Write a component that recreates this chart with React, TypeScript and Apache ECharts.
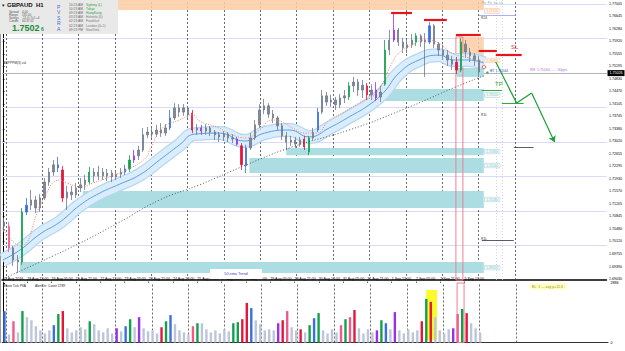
import React, { useEffect, useRef } from "react";
import * as echarts from "echarts";

// ---------------- data ----------------
// 3-hour candles [open, close, low, high]
const candles: number[][] = [
  [1.7068,1.7056,1.7039,1.7080],[1.7056,1.6993,1.6981,1.7068],[1.6993,1.6958,1.6941,1.6999],[1.6958,1.6952,1.6920,1.6972],
  [1.6952,1.7097,1.6944,1.7109],[1.7097,1.7117,1.7088,1.7138],[1.7117,1.7132,1.7103,1.7161],[1.7132,1.7109,1.7094,1.7144],
  [1.7109,1.7138,1.7097,1.7149],[1.7138,1.7184,1.7132,1.7196],[1.7184,1.7213,1.7173,1.7225],[1.7213,1.7234,1.7202,1.7248],
  [1.7234,1.7225,1.7213,1.7257],[1.7219,1.7138,1.7126,1.7231],[1.7138,1.7155,1.7103,1.7173],[1.7155,1.7147,1.7132,1.7173],
  [1.7147,1.7167,1.7138,1.7181],[1.7167,1.7176,1.7155,1.7196],[1.7176,1.7190,1.7161,1.7205],[1.7184,1.7213,1.7178,1.7228],
  [1.7213,1.7202,1.7184,1.7225],[1.7202,1.7213,1.7190,1.7231],[1.7213,1.7202,1.7190,1.7225],[1.7202,1.7210,1.7187,1.7222],
  [1.7210,1.7199,1.7184,1.7219],[1.7199,1.7207,1.7190,1.7219],[1.7207,1.7213,1.7196,1.7225],[1.7213,1.7222,1.7205,1.7234],
  [1.7222,1.7248,1.7213,1.7262],[1.7248,1.7260,1.7239,1.7277],[1.7260,1.7277,1.7248,1.7289],[1.7277,1.7321,1.7271,1.7341],
  [1.7321,1.7329,1.7312,1.7344],[1.7329,1.7323,1.7312,1.7341],[1.7323,1.7335,1.7315,1.7350],[1.7335,1.7326,1.7315,1.7355],
  [1.7326,1.7341,1.7318,1.7352],[1.7341,1.7370,1.7335,1.7393],[1.7370,1.7399,1.7364,1.7413],[1.7399,1.7387,1.7373,1.7410],
  [1.7387,1.7399,1.7376,1.7410],[1.7399,1.7379,1.7370,1.7405],[1.7384,1.7335,1.7326,1.7393],[1.7335,1.7341,1.7321,1.7352],
  [1.7341,1.7332,1.7321,1.7350],[1.7332,1.7341,1.7321,1.7352],[1.7341,1.7329,1.7318,1.7347],[1.7329,1.7321,1.7306,1.7335],
  [1.7321,1.7315,1.7300,1.7329],[1.7315,1.7323,1.7303,1.7332],[1.7323,1.7312,1.7300,1.7329],[1.7312,1.7309,1.7297,1.7323],
  [1.7309,1.7294,1.7289,1.7315],[1.7289,1.7234,1.7219,1.7297],[1.7231,1.7283,1.7210,1.7292],[1.7283,1.7312,1.7277,1.7326],
  [1.7312,1.7350,1.7306,1.7364],[1.7350,1.7393,1.7341,1.7410],[1.7393,1.7405,1.7381,1.7425],[1.7405,1.7381,1.7370,1.7413],
  [1.7381,1.7370,1.7355,1.7393],[1.7370,1.7347,1.7335,1.7376],[1.7347,1.7318,1.7306,1.7355],[1.7318,1.7300,1.7277,1.7329],
  [1.7300,1.7306,1.7289,1.7318],[1.7306,1.7294,1.7283,1.7315],[1.7294,1.7306,1.7286,1.7315],[1.7309,1.7286,1.7277,1.7318],
  [1.7271,1.7312,1.7262,1.7318],[1.7312,1.7329,1.7306,1.7341],[1.7335,1.7387,1.7329,1.7399],[1.7387,1.7434,1.7381,1.7451],
  [1.7434,1.7416,1.7405,1.7445],[1.7416,1.7422,1.7402,1.7437],[1.7422,1.7408,1.7393,1.7431],[1.7408,1.7428,1.7399,1.7439],
  [1.7428,1.7434,1.7413,1.7451],[1.7431,1.7463,1.7422,1.7474],[1.7463,1.7474,1.7445,1.7489],[1.7474,1.7451,1.7434,1.7483],
  [1.7451,1.7465,1.7428,1.7480],[1.7463,1.7437,1.7422,1.7471],[1.7437,1.7451,1.7422,1.7468],[1.7451,1.7428,1.7419,1.7474],
  [1.7431,1.7445,1.7416,1.7463],[1.7468,1.7567,1.7463,1.7596],[1.7567,1.7596,1.7552,1.7625],[1.7596,1.7625,1.7590,1.7674],
  [1.7625,1.7590,1.7579,1.7631],[1.7590,1.7573,1.7558,1.7602],[1.7573,1.7582,1.7558,1.7596],[1.7582,1.7596,1.7573,1.7613],
  [1.7590,1.7608,1.7579,1.7616],[1.7608,1.7590,1.7576,1.7613],[1.7590,1.7596,1.7489,1.7616],[1.7590,1.7637,1.7584,1.7648],
  [1.7637,1.7584,1.7573,1.7642],[1.7584,1.7567,1.7550,1.7590],[1.7567,1.7552,1.7538,1.7582],[1.7552,1.7538,1.7521,1.7567],
  [1.7538,1.7526,1.7509,1.7550],[1.7532,1.7509,1.7497,1.7547],[1.7509,1.7590,1.7503,1.7602],[1.7584,1.7561,1.7544,1.7596],
  [1.7561,1.7550,1.7532,1.7573],[1.7550,1.7538,1.7521,1.7558],[1.7538,1.7503,1.7489,1.7550],
];
const volumes: number[] = [
  1525,390,1030,490,1525,1230,1080,790,590,440,
  590,840,1380,1525,690,490,590,740,640,1030,
  890,590,490,690,440,690,540,790,1130,740,
  1230,690,540,590,440,740,1030,1330,890,590,
  490,390,790,935,935,640,490,590,440,640,
  540,935,985,1130,1920,1670,1080,890,590,640,
  590,935,1080,1525,740,590,640,490,840,1180,
  1425,590,440,640,490,840,1130,1230,1575,690,
  440,640,490,590,1080,935,640,1475,590,440,
  640,490,590,1030,2115,1970,1230,590,440,640,
  690,1380,1625,1425,935,690,490,
];
// signal bars (indices)
const candleGreen = [4, 19, 28, 68, 77, 85, 92, 102];
const candleRed = [13, 42, 53, 67, 81, 101];
const candlePink = [1];
const candleBlue = [5, 12, 27, 37, 54, 70, 95];
const candlePurple = [29, 44, 52, 83, 87];
const volGreen = [4, 12, 19, 28, 36, 43, 51, 52, 68, 70, 76, 84, 94, 102];
const volRed = [13, 35, 53, 54, 62, 66, 78, 93, 95, 103];
const volPink = [2, 42, 63, 75, 77, 101];
const volBlue = [0, 11, 27, 37, 55, 69, 85];
const volPurple = [25, 30, 61, 83, 87, 100];

const slotCount = 135;
const timeLabels = ["17 Aug 2016","18 Aug 13:00","19 Aug 05:00","19 Aug 21:00","22 Aug 13:00","23 Aug 05:00","23 Aug 21:00","24 Aug 13:00","25 Aug 05:00","25 Aug 21:00","26 Aug 13:00","29 Aug 05:00","29 Aug 21:00","30 Aug 13:00","31 Aug 05:00","31 Aug 21:00","1 Sep 13:00","2 Sep 05:00","2 Sep 21:00","5 Sep 13:00"];
const timeLabelHours = [0,16,32,48,64,80,96,112,128,144,160,176,192,208,224,240,256,272,288,304];
const dayLineHours = [2,26,50,74,98,122,146,170,194,218,242,266,290,314,338];
const priceTicks = [1.6903,1.6939,1.69755,1.7012,1.7048,1.70845,1.71205,1.7157,1.7193,1.72295,1.72655,1.7302,1.7338,1.73745,1.74105,1.7447,1.7483,1.75195,1.75555,1.7592,1.7628,1.76645,1.77005];
const volumeTicks = [0, 2886];
const greenLevels = [1.695,1.705,1.715,1.725,1.735,1.745,1.755,1.765];
const blueLevels = [1.700,1.710,1.720,1.730,1.740,1.750,1.760,1.770];
const currentPrice = 1.75026;
const entryLevel = 1.75164;

// indicators [hour, price]
const emaBand = [[0,1.6958],[11.4,1.6987],[24.5,1.7033],[37.7,1.7068],[50.9,1.7117],[64,1.7152],[77.2,1.7178],[90.4,1.7205],[103.5,1.7248],[116.7,1.7292],[126.6,1.7323],[143,1.7326],[159.5,1.7303],[172.7,1.7326],[189.1,1.7335],[202.3,1.7315],[215.5,1.7341],[228.6,1.7373],[241.8,1.7408],[251.7,1.7445],[261.5,1.75],[274.7,1.7538],[287.9,1.7552],[297.8,1.7538],[307.6,1.7538],[317.5,1.7529]];
const fastMa = [[0,1.7051],[11.4,1.6999],[26.5,1.7132],[37.7,1.719],[42.3,1.7181],[52.8,1.717],[59.4,1.7181],[70.6,1.7199],[85.8,1.7228],[95,1.7257],[96.9,1.7277],[105.5,1.7341],[116.7,1.7364],[125.3,1.7379],[129.9,1.7361],[141.1,1.7344],[151.6,1.7321],[160.8,1.7312],[169.4,1.7335],[177.9,1.7364],[184.5,1.7358],[191.1,1.7341],[200.3,1.7326],[206.9,1.7326],[215.5,1.7364],[224,1.7384],[235.2,1.7413],[246.4,1.7442],[256.9,1.7529],[261.5,1.7558],[270.1,1.7582],[279.3,1.7596],[287.9,1.7587],[296.4,1.7558],[307.6,1.7544],[317.5,1.7532]];
const slowMa = [[0,1.6903],[24.5,1.6952],[50.9,1.7007],[77.2,1.7068],[103.5,1.7132],[129.9,1.7176],[160.8,1.7234],[191.1,1.7286],[228.6,1.7335],[263.5,1.7393],[299.1,1.746],[317.5,1.7492]];

// zones [fromHour, toHour, low, high, showLabel]
const demandZones = [[11.4,317.5,1.692,1.6952,1],[52.8,317.5,1.7109,1.7158,1],[162.8,317.5,1.721,1.7254,1],[187.1,317.5,1.7262,1.7283,1],[251.7,317.5,1.7419,1.7454,1],[299.7,317.5,1.7489,1.7515,0]];
const supplyZones = [[0,317.5,1.7683,1.7712,1],[301.1,317.5,1.7532,1.7605,1]];
// trade plan drawings
const resistanceMarks = [[256.3,270.1,1.7674],[278,293.1,1.7654],[299.1,315.5,1.7611],[314.2,326.1,1.7564],[325.4,342.5,1.7552]];
const tradePath = [[325.4,1.7532],[339.2,1.7413],[349.1,1.7442],[364.2,1.73]];
const tpMarks = [[316.2,329.4,1.7451],[329.4,343.8,1.7413]];
const pivotMarks = [[314.2,338.6,1.7668,"#9a9af0"],[316.2,337.3,1.7016,"#333"],[337.3,350.4,1.7286,"#333"]];
const guideHours = [325.4, 329.4];
const signalWindow = [299.1, 303.7, 1.7605];
const volumeSpike = [278.7, 285.9, 120, 2550];

// ---------------- chart ----------------
const FONT = '"Liberation Sans", Arial, sans-serif';
const HMIN = -0.5, HMAX = 398.5;
const col: Record<string, string> = { g: "#12a14b", r: "#e3173e", k: "#ef5a8a", b: "#3b6fe0", p: "#9932e6" };
const pick = (i: number, m: Record<string, number[]>) => {
  for (const k of Object.keys(m)) if (m[k].includes(i)) return col[k];
  return null;
};
const fmt = (v: number) => v.toFixed(5);

function buildOption() {
  const cats = Array.from({ length: slotCount }, (_, i) => String(i));
  const cSig = { g: candleGreen, r: candleRed, k: candlePink, b: candleBlue, p: candlePurple };
  const vSig = { g: volGreen, r: volRed, k: volPink, b: volBlue, p: volPurple };
  const candleData = candles.map((c, i) => {
    const cc = pick(i, cSig);
    return cc ? { value: c, itemStyle: { color: cc, color0: cc, borderColor: cc, borderColor0: cc } } : c;
  });
  const volData = volumes.map((v, i) => ({ value: v, itemStyle: { color: pick(i, vSig) || "#bcc6d8" } }));

  const zoneArea = (z: number[], color: string, lc: string, bg: string, dy: number) => [
    { xAxis: z[0], yAxis: z[3], itemStyle: { color },
      label: { show: !!z[4], position: "right", distance: 1, offset: [0, dy], formatter: fmt(z[3]), fontSize: 3.3, color: lc, backgroundColor: bg, borderColor: lc, borderWidth: 0.4, padding: [0.6, 1.5] } },
    { xAxis: z[1], yAxis: z[2] },
  ];

  const seg = (a: number[], b: number[], extra: any = {}) => [{ coord: a, ...extra }, { coord: b }];

  const text = (t: string, x: number, y: number, size: number, fill: string, weight = "normal", extra: any = {}) => ({
    type: "text", x, y, silent: true, z: 100,
    style: { text: t, fill, fontSize: size, fontFamily: FONT, fontWeight: weight, verticalAlign: "top", ...extra },
  });

  const sessions = [["10:23 AM","Sydney (L)","#2e9e3e"],["10:23 AM","Tokyo","#2e9e3e"],["09:23 AM","HongKong","#2e9e3e"],["03:23 AM","Helsinki (0)","#777"],["02:23 AM","Frankfurt","#777"],["02:23 AM","London (0+1)","#777"],["09:23 PM","NewYork","#777"]];

  const graphic: any[] = [
    { type: "line", silent: true, shape: { x1: 0.5, y1: 0, x2: 0.5, y2: 343 }, style: { stroke: "#9a9a9a", lineWidth: 1 } },
    { type: "rect", silent: true, z: 99, shape: { x: 0, y: 0, width: 118, height: 34 }, style: { fill: "#e9e9e9" } },
    text("▾", 1.5, 2, 5, "#222"),
    text("GBPAUD  H1", 7, 2, 6, "#111", "bold"),
    text("Spread", 9, 10.5, 3, "#555"), text("4.00", 22, 10.5, 3, "#555"),
    text("Range", 9, 13.5, 3, "#555"), text("181.00", 22, 13.5, 3, "#555"),
    text("Swings", 9, 16.5, 3, "#555"), text("-11.0 / 5.0 +4", 22, 16.5, 3, "#555"),
    text("Candle", 9, 19.5, 3, "#555"), text("00:37:02", 22, 19.5, 3, "#555"),
    text("1.7502", 12, 23, 9, "#1e8c3a", "bold"),
    text("6", 41, 26.5, 5, "#1e8c3a", "bold"),
    ...["P", "V", "S", "R", "A"].map((l, i) => text(l, 57, 4 + i * 5.6, 5, "#4466dd")),
    ...sessions.flatMap((s, i) => [text(s[0], 69, 3 + i * 4.2, 3.3, "#666"), text(s[1], 86, 3 + i * 4.2, 3.3, s[2])]),
    text("ARPPPM(3) val", 3, 61.5, 3.3, "#333"),
    text("Blaise Tick PVA", 3, 284, 3.3, "#222"),
    text("AlertOn: Count 1789", 35, 284, 3.3, "#222"),
    { type: "rect", silent: true, z: 99, shape: { x: 210, y: 269, width: 52, height: 10 }, style: { fill: "#fff" } },
    text("50 ema Trend", 236, 272, 3.8, "#3344bb", "normal", { align: "center" }),
    text("SL", 511, 44, 6, "#e53935"),
    text("TP", 495, 81, 6, "#2e9e3e"),
    text("R24", 481, 16.5, 3.3, "#333"),
    text("R1L", 481, 113, 3.3, "#333"),
    text("R1L", 481, 237, 3.3, "#333"),
    text("Piv  Piv  Iso  Ln", 482, 1, 3, "#999"),
    text("BT 1.75044", 490, 68.5, 3.5, "#3552d8"),
    text("RR: 1.75164, ..... 30pps", 530, 67.5, 3.5, "#b36ad8"),
    text("EL: 1 --- avg p+11.3 :", 530, 283.5, 3.5, "#8c8c1a", "normal", { backgroundColor: "#ffffc0", padding: [1, 2] }),
    { type: "circle", silent: true, z: 100, shape: { cx: 484, cy: 67, r: 1.8 }, style: { fill: "none", stroke: "#e53935", lineWidth: 0.8 } },
    { type: "circle", silent: true, z: 100, shape: { cx: 487.5, cy: 72.5, r: 1.1 }, style: { fill: "#2e9e3e" } },
  ];

  return {
    animation: false,
    backgroundColor: "#fff",
    textStyle: { fontFamily: FONT },
    grid: [
      { left: 2, top: 0, width: 606, height: 280 },
      { left: 2, top: 283, width: 606, height: 59.5 },
    ],
    xAxis: [
      { type: "category", gridIndex: 0, data: cats, boundaryGap: true, axisLine: { lineStyle: { color: "#000", width: 1.5 } }, axisTick: { show: false }, axisLabel: { show: false }, splitLine: { show: false } },
      { type: "value", gridIndex: 0, min: HMIN, max: HMAX, show: false },
      { type: "category", gridIndex: 1, data: cats, boundaryGap: true, axisLine: { lineStyle: { color: "#333", width: 1 } }, axisTick: { show: false }, axisLabel: { show: false } },
      { type: "value", gridIndex: 1, min: HMIN, max: HMAX, axisLine: { show: false }, splitLine: { show: false },
        axisTick: { show: true, customValues: timeLabelHours, length: 1.5, lineStyle: { color: "#000", width: 0.6 } },
        axisLabel: { customValues: timeLabelHours, formatter: (v: number) => timeLabels[timeLabelHours.indexOf(Math.round(v))] ?? "", fontSize: 3.6, color: "#000", align: "left", margin: 2.5, hideOverlap: false } },
    ],
    yAxis: [
      { type: "value", gridIndex: 0, position: "right", min: 1.69, max: 1.7712, splitLine: { show: false },
        axisLine: { show: true, lineStyle: { color: "#000", width: 1 } },
        axisTick: { show: true, customValues: priceTicks, length: 2, lineStyle: { color: "#000", width: 0.6 } },
        axisLabel: { customValues: priceTicks, formatter: (v: number) => fmt(v), fontSize: 3.6, color: "#000", margin: 2.5 } },
      { type: "value", gridIndex: 1, position: "right", min: 0, max: 2886, splitLine: { show: false },
        axisLine: { show: true, lineStyle: { color: "#000", width: 1 } },
        axisTick: { show: true, customValues: volumeTicks, length: 2 },
        axisLabel: { customValues: volumeTicks, formatter: (v: number) => String(v), fontSize: 3.6, color: "#000", margin: 2.5 } },
    ],
    series: [
      // zones, levels, separators (main pane)
      {
        type: "line", name: "levels", xAxisIndex: 1, yAxisIndex: 0, data: [], z: 1, silent: true,
        markArea: {
          silent: true, z: 1,
          data: [
            ...demandZones.map((z) => zoneArea(z, "#abdde3", "#8fc6cc", "#eef8f9", 0)),
            zoneArea(supplyZones[0], "rgba(251,205,165,0.85)", "#f2b27c", "#fff3e8", 6),
            zoneArea(supplyZones[1], "rgba(251,205,165,0.85)", "#f2b27c", "#fff3e8", 11),
            [{ xAxis: signalWindow[0], yAxis: signalWindow[2], itemStyle: { color: "rgba(0,0,0,0)", borderColor: "#f27f8c", borderWidth: 1 } }, { xAxis: signalWindow[1], yAxis: 1.69 }],
          ],
        },
        markLine: {
          silent: true, z: 0.5, symbol: "none", label: { show: false },
          data: [
            ...greenLevels.map((p) => ({ yAxis: p, lineStyle: { color: "#c3e9c3", width: 1, type: "solid" } })),
            ...blueLevels.map((p) => ({ yAxis: p, lineStyle: { color: "#dadaf6", width: 1, type: "solid" } })),
            ...dayLineHours.map((h) => ({ xAxis: h, lineStyle: { color: "#444", width: 0.8, type: [2, 2] } })),
            ...guideHours.map((h) => ({ xAxis: h, lineStyle: { color: "#c8c8c8", width: 0.8, type: [1, 2] } })),
            { yAxis: entryLevel, lineStyle: { color: "#86cf86", width: 0.9, type: [5, 2, 1, 2] } },
            { yAxis: currentPrice, lineStyle: { color: "#b0b0b0", width: 0.8, type: "solid" },
              label: { show: true, position: "end", distance: 1, formatter: fmt(currentPrice), fontSize: 3.6, color: "#fff", backgroundColor: "#000", padding: [1, 2] } },
          ],
        },
      },
      // EMA ribbon
      { type: "line", name: "band edge", xAxisIndex: 1, yAxisIndex: 0, data: emaBand, smooth: true, showSymbol: false, silent: true, z: 1.5, lineStyle: { color: "#b3d7f4", width: 14 } },
      { type: "line", name: "band", xAxisIndex: 1, yAxisIndex: 0, data: emaBand, smooth: true, showSymbol: false, silent: true, z: 1.6, lineStyle: { color: "#dbedfb", width: 11.5 } },
      { type: "line", name: "ema", xAxisIndex: 1, yAxisIndex: 0, data: emaBand, smooth: true, showSymbol: false, silent: true, z: 1.7, lineStyle: { color: "#4a96e8", width: 0.9 } },
      // candles
      {
        type: "candlestick", name: "GBPAUD", xAxisIndex: 0, yAxisIndex: 0, data: candleData, z: 2, barWidth: 1.8, silent: true,
        itemStyle: { color: "#808a9c", color0: "#808a9c", borderColor: "#6f788b", borderColor0: "#6f788b", borderWidth: 0.8 },
      },
      // moving averages
      { type: "line", name: "slow", xAxisIndex: 1, yAxisIndex: 0, data: slowMa, smooth: true, showSymbol: false, silent: true, z: 3, lineStyle: { color: "#333", width: 0.8, type: [1, 2] } },
      {
        type: "line", name: "fast", xAxisIndex: 1, yAxisIndex: 0, data: fastMa, smooth: true, showSymbol: false, silent: true, z: 3, lineStyle: { color: "#f4845f", width: 1, type: [1, 1.5] },
        markLine: {
          silent: true, z: 5, symbol: "none", label: { show: false },
          data: [
            ...resistanceMarks.map((r) => seg([r[0], r[2]], [r[1], r[2]], { lineStyle: { color: "#e8141c", width: 2.2, type: "solid" } })),
            ...tpMarks.map((r) => seg([r[0], r[2]], [r[1], r[2]], { lineStyle: { color: "#2eaa3e", width: 1, type: "solid" } })),
            ...pivotMarks.map((r) => seg([r[0] as number, r[2] as number], [r[1] as number, r[2] as number], { lineStyle: { color: r[3] as string, width: 0.8, type: "solid" } })),
            ...tradePath.slice(1).map((p, i) => [
              { coord: tradePath[i], symbol: "none", lineStyle: { color: "#18a234", width: 1.2, type: "solid" } },
              { coord: p, symbol: i === tradePath.length - 2 ? "arrow" : "none", symbolSize: 6 },
            ]),
          ],
        },
      },
      // volume pane
      {
        type: "line", name: "volume marks", xAxisIndex: 3, yAxisIndex: 1, data: [], z: 1, silent: true,
        markArea: {
          silent: true, z: 1,
          data: [
            [{ xAxis: volumeSpike[0], yAxis: volumeSpike[3], itemStyle: { color: "#fafa2c" } }, { xAxis: volumeSpike[1], yAxis: volumeSpike[2] }],
            [{ xAxis: signalWindow[0], yAxis: 2886, itemStyle: { color: "rgba(0,0,0,0)", borderColor: "#f27f8c", borderWidth: 1 } }, { xAxis: signalWindow[1], yAxis: 0 }],
          ],
        },
        markLine: {
          silent: true, z: 0.5, symbol: "none", label: { show: false },
          data: dayLineHours.map((h) => ({ xAxis: h, lineStyle: { color: "#444", width: 0.8, type: [2, 2] } })),
        },
      },
      { type: "bar", name: "tick volume", xAxisIndex: 2, yAxisIndex: 1, data: volData, barWidth: 2.4, z: 2, silent: true },
    ],
    graphic,
  };
}

export default function App() {
  const ref = useRef<HTMLDivElement>(null);
  useEffect(() => {
    if (!ref.current) return;
    const chart = echarts.init(ref.current, null, { renderer: "svg" });
    chart.setOption(buildOption() as any);
    return () => chart.dispose();
  }, []);
  return <div ref={ref} style={{ position: "fixed", left: 0, top: 0, width: 625, height: 351, background: "#fff" }} />;
}
